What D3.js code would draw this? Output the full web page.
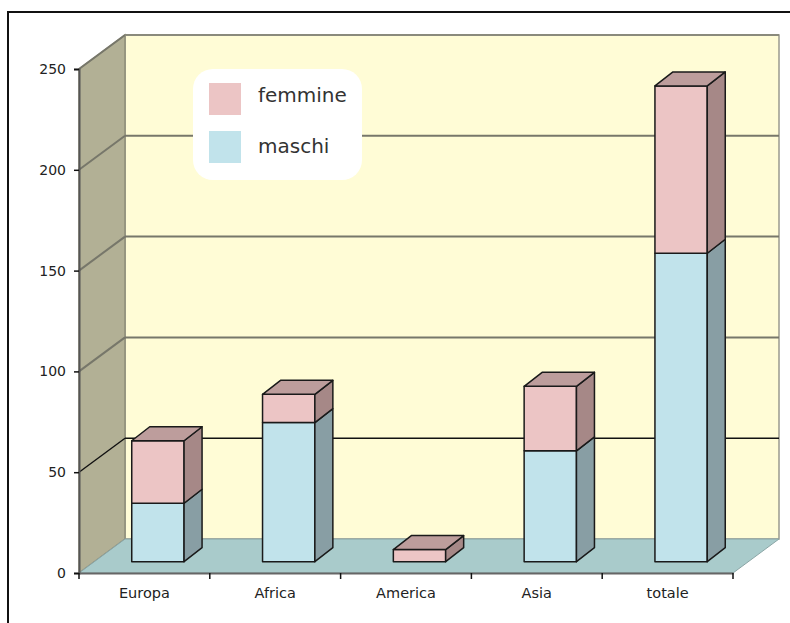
<!DOCTYPE html>
<html>
<head>
<meta charset="utf-8">
<script src="https://cdn.jsdelivr.net/npm/d3@7"></script>
<style>
  html, body { margin: 0; padding: 0; background: #fff; }
  svg { display: block; }
  text { font-family: "DejaVu Sans", sans-serif; }
</style>
</head>
<body>
<svg id="chart" width="790" height="623"></svg>
<script>
// Stacked counts per area
const categories = ["Europa", "Africa", "America", "Asia", "totale"];
const maschi   = [29, 69, 0, 55, 153];
const femmine  = [31, 14, 6, 32, 83];
const seriesNames = ["maschi", "femmine"];
const yTicks = [0, 50, 100, 150, 200, 250];

const rows = categories.map((c, i) => ({ cat: c, maschi: maschi[i], femmine: femmine[i] }));

const svg = d3.select("#chart");

// Plot frame (front plane) and the 3D depth offset of the walls
const plotLeft = 79, plotRight = 733, plotBottom = 573, plotTop = 69;
const depth = { dx: 46, dy: -34 };
// Bars sit part-way into the floor and have their own depth
const barFront = { dx: 13.5, dy: -11.3 };
const barDepth = { dx: 18, dy: -14 };

const y = d3.scaleLinear().domain([0, 250]).range([plotBottom, plotTop]);
const x = d3.scaleBand().domain(categories).range([plotLeft, plotRight]);
const barW = x.bandwidth() * 0.4;

const colors = {
  maschi:  { front: "#c1e3eb", side: "#889ea4", top: "#a3bcc2" },
  femmine: { front: "#ecc5c5", side: "#a68887", top: "#bd9d9c" }
};

// Outer border
svg.append("rect")
  .attr("x", 8).attr("y", 12).attr("width", 800).attr("height", 640)
  .attr("fill", "none").attr("stroke", "#111").attr("stroke-width", 2);

const pt = (px, py) => px + "," + py;

// Back wall
svg.append("rect")
  .attr("x", plotLeft + depth.dx).attr("y", plotTop + depth.dy)
  .attr("width", plotRight - plotLeft).attr("height", plotBottom - plotTop)
  .attr("fill", "#fffcd6").attr("stroke", "#9a9a8e").attr("stroke-width", 1.5);

// Left side wall
svg.append("polygon")
  .attr("points", [
    pt(plotLeft, plotTop), pt(plotLeft + depth.dx, plotTop + depth.dy),
    pt(plotLeft + depth.dx, plotBottom + depth.dy), pt(plotLeft, plotBottom)
  ].join(" "))
  .attr("fill", "#b2b095").attr("stroke", "#8f8d78").attr("stroke-width", 1.5);

// Floor
svg.append("polygon")
  .attr("points", [
    pt(plotLeft, plotBottom), pt(plotLeft + depth.dx, plotBottom + depth.dy),
    pt(plotRight + depth.dx, plotBottom + depth.dy), pt(plotRight, plotBottom)
  ].join(" "))
  .attr("fill", "#a9cbcb").attr("stroke", "#8aa5a5").attr("stroke-width", 1);

// Grid lines on the back and side walls
const gridVals = yTicks.filter(v => v > 0 && v < 250);
const grid = svg.append("g");
gridVals.forEach(v => {
  const col = v === 50 ? "#111" : "#77776a";
  const sw = v === 50 ? 1.4 : 2;
  grid.append("line")
    .attr("x1", plotLeft + depth.dx).attr("x2", plotRight + depth.dx)
    .attr("y1", y(v) + depth.dy).attr("y2", y(v) + depth.dy)
    .attr("stroke", col).attr("stroke-width", sw);
  grid.append("line")
    .attr("x1", plotLeft).attr("x2", plotLeft + depth.dx)
    .attr("y1", y(v)).attr("y2", y(v) + depth.dy)
    .attr("stroke", col).attr("stroke-width", sw);
});
// Top edges at 250
grid.append("line")
  .attr("x1", plotLeft).attr("x2", plotLeft + depth.dx)
  .attr("y1", y(250)).attr("y2", y(250) + depth.dy)
  .attr("stroke", "#77776a").attr("stroke-width", 2);
grid.append("line")
  .attr("x1", plotLeft + depth.dx).attr("x2", plotRight + depth.dx)
  .attr("y1", y(250) + depth.dy).attr("y2", y(250) + depth.dy)
  .attr("stroke", "#8a8a7c").attr("stroke-width", 2);

// Y axis
const yAxis = d3.axisLeft(y).tickValues(yTicks).tickSize(5).tickPadding(8);
const gy = svg.append("g").attr("transform", `translate(${plotLeft},0)`).call(yAxis);
gy.select(".domain").attr("stroke", "#555").attr("stroke-width", 2);
gy.selectAll(".tick line").attr("stroke", "#111").attr("stroke-width", 1.5);
gy.selectAll(".tick text").attr("font-size", 14).attr("fill", "#222")
  .attr("font-family", "DejaVu Sans, sans-serif");

// X axis
const xAxis = d3.axisBottom(x).tickSize(0).tickPadding(15);
const gx = svg.append("g").attr("transform", `translate(0,${plotBottom})`).call(xAxis);
gx.select(".domain").attr("stroke", "#666").attr("stroke-width", 2);
gx.selectAll(".tick text").attr("font-size", 14.5).attr("fill", "#222")
  .attr("font-family", "DejaVu Sans, sans-serif");
// Separator ticks between categories
const sepX = categories.map(c => x(c)).concat([plotRight]);
gx.selectAll("line.sep").data(sepX).enter().append("line")
  .attr("class", "sep")
  .attr("x1", d => d).attr("x2", d => d)
  .attr("y1", 0).attr("y2", 6)
  .attr("stroke", "#111").attr("stroke-width", 1.5);

// Stacked 3D bars
const stack = d3.stack().keys(seriesNames);
const layers = stack(rows);
const barsG = svg.append("g");
const barStroke = "#1a1a1a", barStrokeW = 1.5;

rows.forEach((row, i) => {
  const x0 = x(row.cat) + x.bandwidth() / 2 - barW / 2 + barFront.dx;
  const x1 = x0 + barW;
  const segs = layers.map(L => ({ key: L.key, y0: L[i][0], y1: L[i][1] }))
    .filter(s => s.y1 > s.y0);
  segs.forEach((s, j) => {
    const yb = y(s.y0) + barFront.dy;
    const yt = y(s.y1) + barFront.dy;
    const c = colors[s.key];
    const g = barsG.append("g")
      .attr("stroke", barStroke).attr("stroke-width", barStrokeW)
      .attr("stroke-linejoin", "round");
    // front face
    g.append("rect")
      .attr("x", x0).attr("y", yt).attr("width", barW).attr("height", yb - yt)
      .attr("fill", c.front);
    // side face
    g.append("polygon")
      .attr("points", [
        pt(x1, yt), pt(x1 + barDepth.dx, yt + barDepth.dy),
        pt(x1 + barDepth.dx, yb + barDepth.dy), pt(x1, yb)
      ].join(" "))
      .attr("fill", c.side);
    // top face on the highest segment
    if (j === segs.length - 1) {
      g.append("polygon")
        .attr("points", [
          pt(x0, yt), pt(x0 + barDepth.dx, yt + barDepth.dy),
          pt(x1 + barDepth.dx, yt + barDepth.dy), pt(x1, yt)
        ].join(" "))
        .attr("fill", c.top);
    }
  });
});

// Legend
const legend = svg.append("g").attr("transform", "translate(193,69)");
legend.append("rect")
  .attr("width", 169).attr("height", 111).attr("rx", 20).attr("ry", 20)
  .attr("fill", "#fff");
const legendItems = ["femmine", "maschi"];
legendItems.forEach((name, k) => {
  legend.append("rect")
    .attr("x", 16).attr("y", 14 + k * 48).attr("width", 32).attr("height", 32)
    .attr("fill", colors[name].front);
  legend.append("text")
    .attr("x", 65).attr("y", 33 + k * 51)
    .attr("font-size", 20).attr("fill", "#333")
    .text(name);
});
</script>
</body>
</html>
